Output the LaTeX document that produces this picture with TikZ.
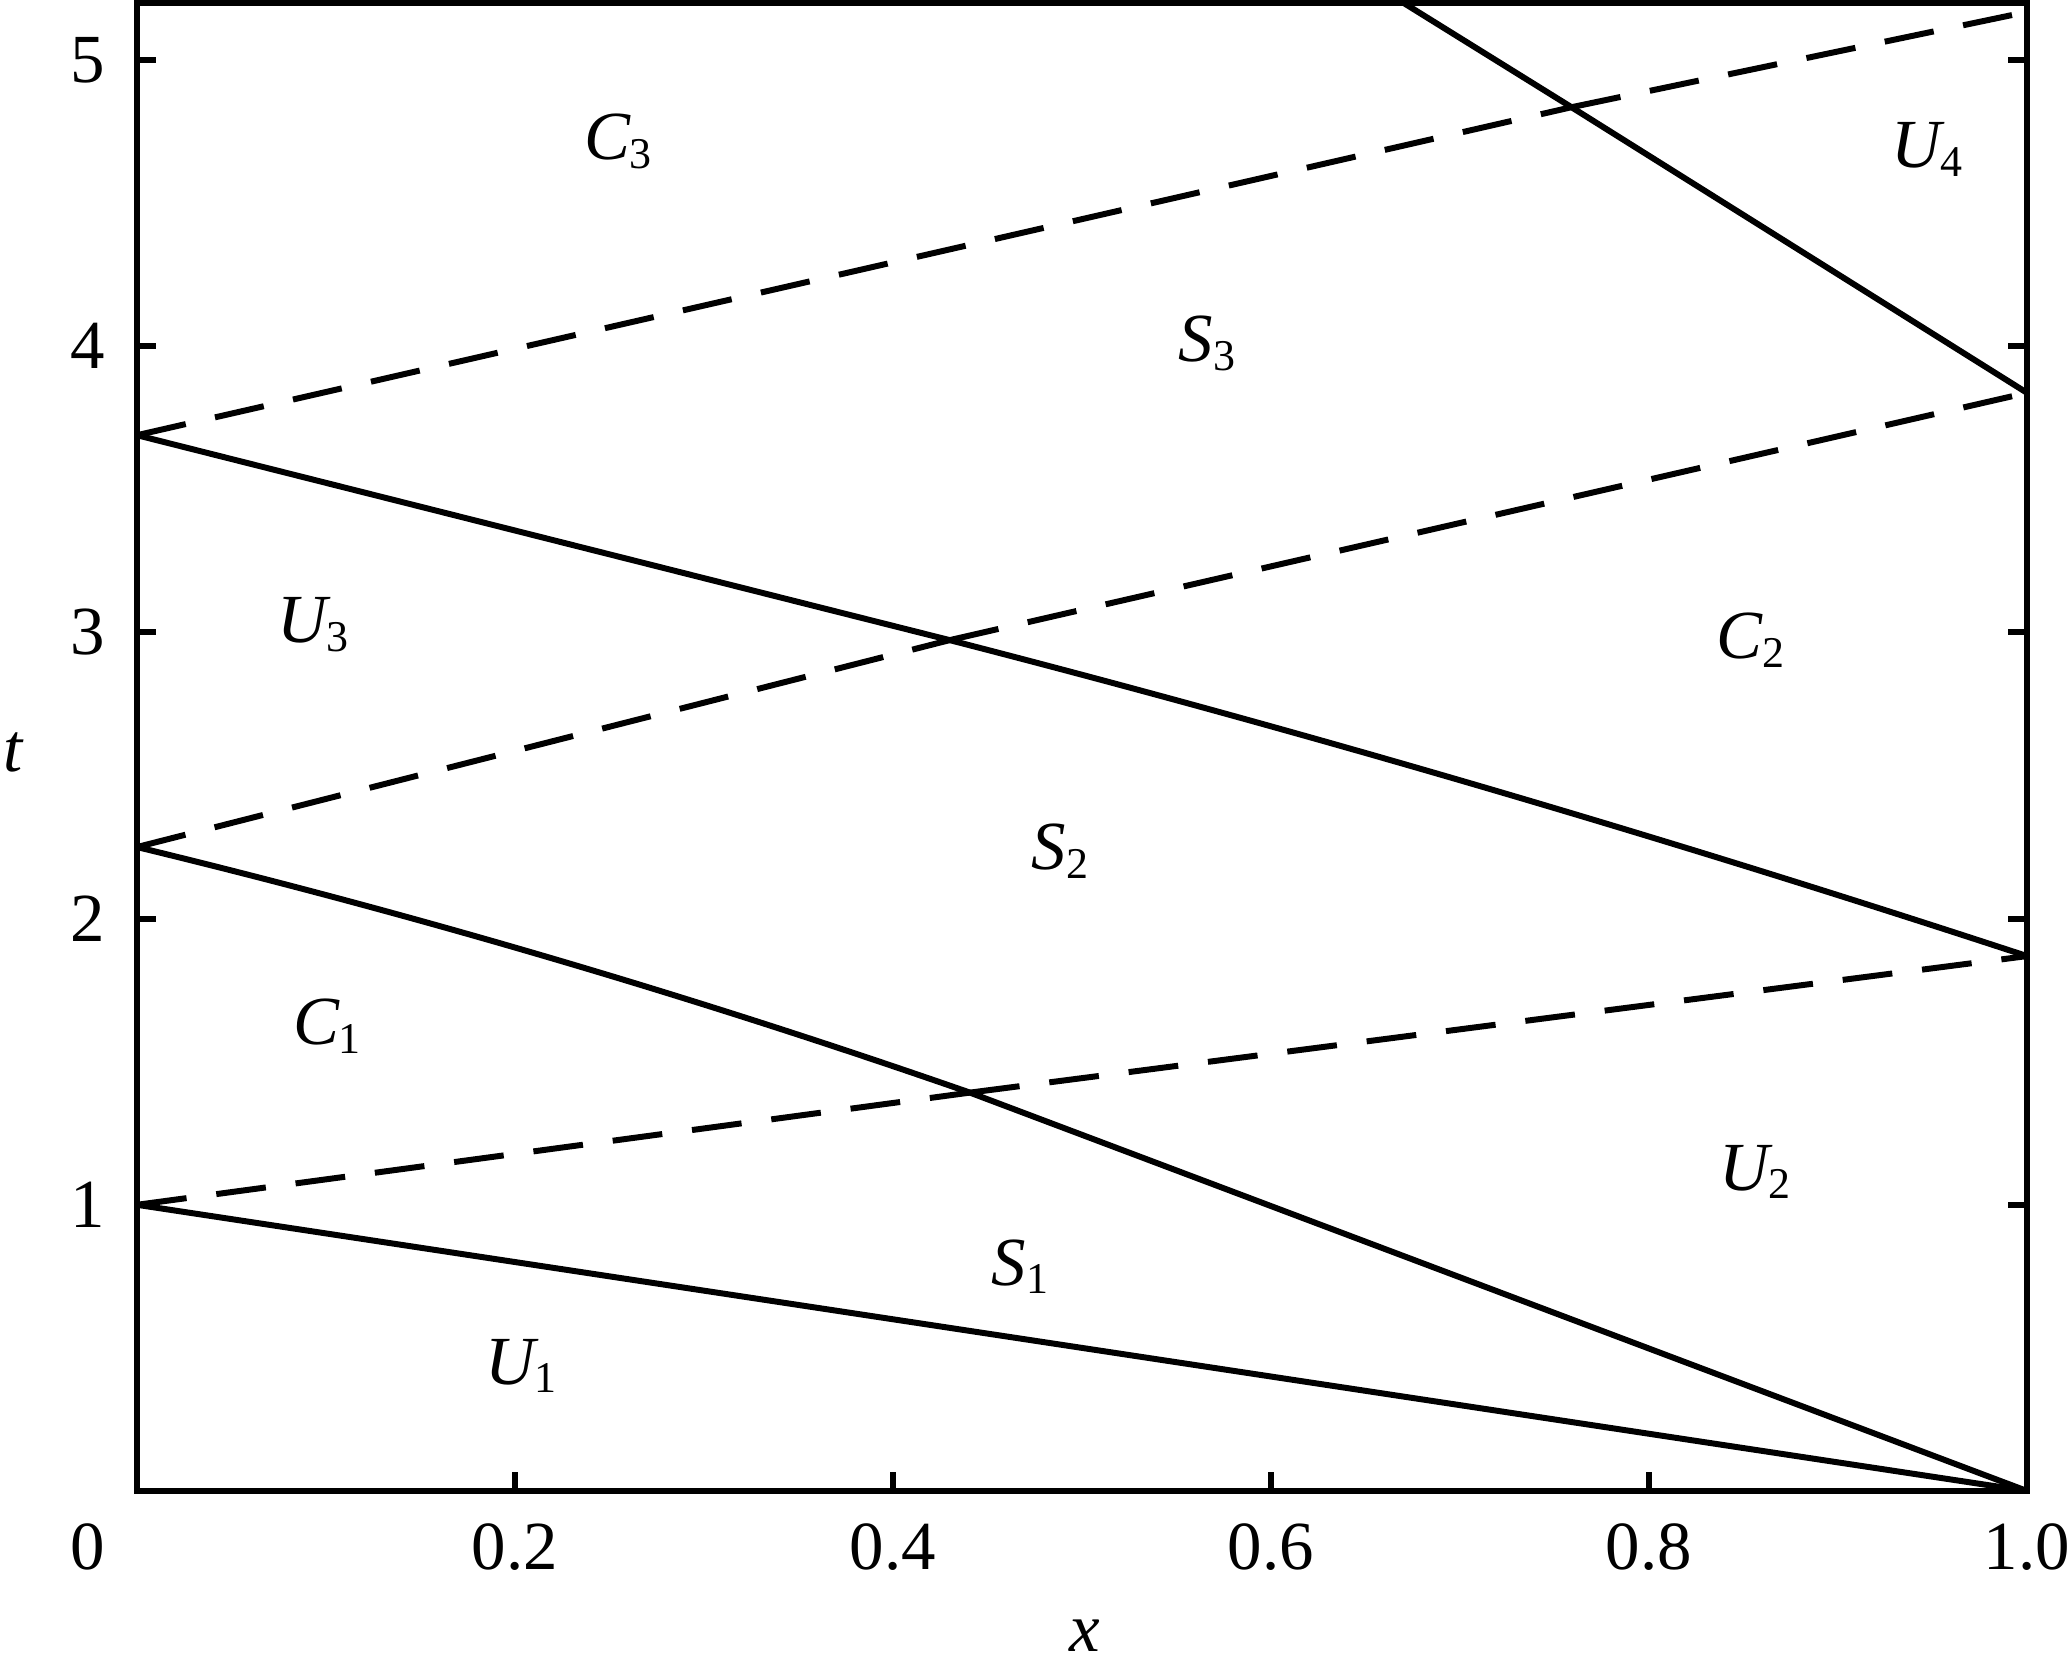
\documentclass[tikz,border=0pt]{standalone}
\usepackage{fontspec}
\setmainfont{Liberation Serif}
\newcommand\reglab[2]{{\itshape #1}\raisebox{-0.12em}{\fontsize{12.5pt}{14pt}\selectfont #2}}
\begin{document}
\begin{tikzpicture}[
  every node/.style={font=\fontsize{19.6pt}{23pt}\selectfont, inner sep=0pt},
  solidline/.style={line width=1.7pt},
  charline/.style={line width=1.7pt, dash pattern=on 0.5cm off 0.3cm},
  tickline/.style={line width=1.7pt},
  reg/.style={anchor=base},
]
\useasboundingbox (0,0) rectangle (20.69,16.79);
\begin{scope}[shift={(1.37,1.88)}, x=18.90cm, y=2.862cm]
  % key points (data coordinates)
  \coordinate (A1) at (0,1.0);
  \coordinate (A2) at (0,2.25);
  \coordinate (A3) at (0,3.689);
  \coordinate (B0) at (1,0);
  \coordinate (B1) at (1,1.869);
  \coordinate (B2) at (1,3.837);
  \coordinate (B3) at (1,5.168);
  \coordinate (T7) at (0.670,5.2);
  \coordinate (X1) at (0.4407,1.392);
  \coordinate (X2) at (0.430,2.973);
  \coordinate (X3) at (0.759,4.835);
  \coordinate (K1) at (0.1469,2.015);
  \coordinate (K2) at (0.2938,1.730);
  \coordinate (K3) at (0.62,2.650);
  \coordinate (K4) at (0.81,2.281);
  % frame and ticks
  \draw[tickline] (0,0) rectangle (1,5.2);
  \foreach \t in {1,...,5} {
    \draw[tickline] (0,\t) -- ++(0.19cm,0);
    \draw[tickline] (1,\t) -- ++(-0.19cm,0);
    \node (yl\t) at ([xshift=-0.49cm]0,\t) {\t};
  }
  \foreach \x/\n in {0.2/a,0.4/b,0.6/c,0.8/d} {
    \draw[tickline] (\x,0) -- ++(0,0.19cm);
    \node (xl\n) at ([yshift=-0.56cm]\x,0) {\x};
  }
  \node (xl0) at ([xshift=-0.49cm,yshift=-0.56cm]0,0) {0};
  \node (xl1) at ([yshift=-0.56cm]1,0) {1.0};
  % solid lines
  \draw[solidline] (A1) -- (B0);
  \draw[solidline] (A2) .. controls (K1) and (K2) .. (X1) -- (B0);
  \draw[solidline] (A3) -- (X2) .. controls (K3) and (K4) .. (B1);
  \draw[solidline] (B2) -- (X3) -- (T7);
  % dashed lines
  \draw[charline] (A1) -- (X1);
  \draw[charline] (X1) -- (B1);
  \draw[charline] (A2) -- (X2);
  \draw[charline] (X2) -- (B2);
  \draw[charline] (A3) -- (X3);
  \draw[charline] (X3) -- (B3);
\end{scope}
% axis labels
\node (xlab) at (10.85,0.43) {\itshape x};
\node (tlab) at (0.13,9.27) {\itshape t};
% region labels
\node[reg] (C3) at (6.18,15.19) {\reglab{C}{3}};
\node[reg] (U4) at (19.27,15.11) {\reglab{U}{4}};
\node[reg] (S3) at (12.07,13.17) {\reglab{S}{3}};
\node[reg] (U3) at (3.13,10.36) {\reglab{U}{3}};
\node[reg] (C2) at (17.50,10.20) {\reglab{C}{2}};
\node[reg] (S2) at (10.60,8.09) {\reglab{S}{2}};
\node[reg] (C1) at (3.27,6.34) {\reglab{C}{1}};
\node[reg] (U2) at (17.55,4.89) {\reglab{U}{2}};
\node[reg] (S1) at (10.20,3.94) {\reglab{S}{1}};
\node[reg] (U1) at (5.21,2.95) {\reglab{U}{1}};
\end{tikzpicture}
\end{document}
